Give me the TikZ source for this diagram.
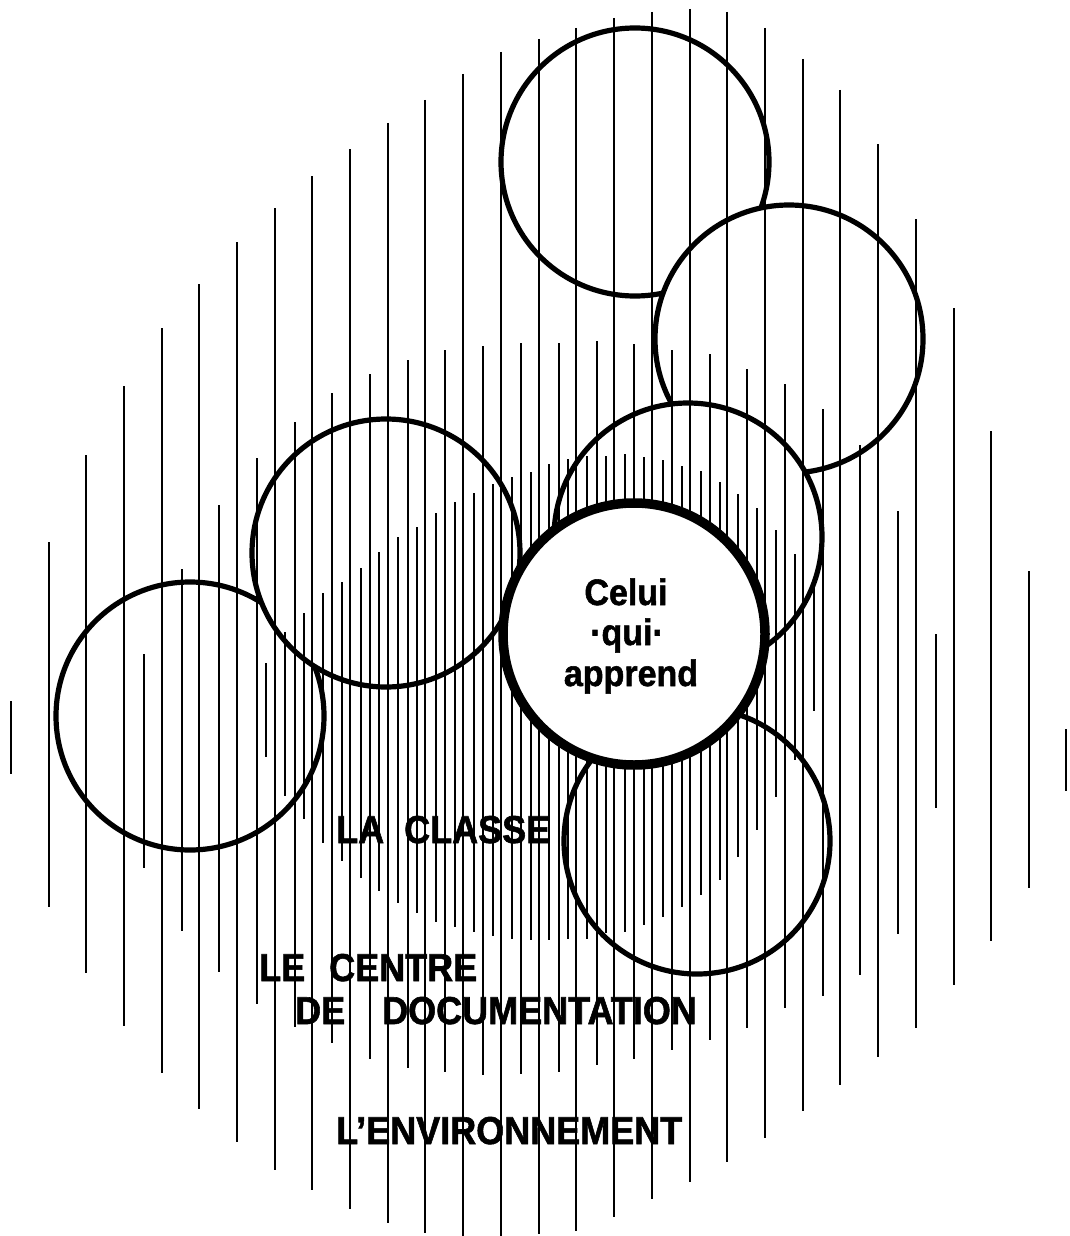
\documentclass[tikz,border=0pt]{standalone}
\usepackage{graphicx}
\usepackage{fontspec}
\setmainfont{Liberation Sans}[BoldFeatures={FakeBold=1.5}]
\newcommand{\tallish}[1]{\scalebox{1}[1.08]{#1}}
\begin{document}
\begin{tikzpicture}[x=1pt,y=-1pt,line cap=butt,
  vline/.style={line width=2.2pt},
  ring/.style={line width=5.2pt,draw=black,fill=white},
  core/.style={line width=9.5pt,draw=black,fill=white},
  lab/.style={font=\bfseries\fontsize{36}{40}\selectfont,inner sep=0pt,anchor=base west},
  ctext/.style={font=\bfseries\fontsize{34}{38}\selectfont,inner sep=0pt,anchor=base}]
\useasboundingbox (0,0) rectangle (1069,1236);
% outer rings (later ones hide the outline of earlier ones)
\draw[ring] (190,716) circle[radius=134pt];
\draw[ring] (386,553) circle[radius=134pt];
\draw[ring] (635,162) circle[radius=134pt];
\draw[ring] (789,339) circle[radius=134pt];
\draw[ring] (688,537) circle[radius=134pt];
\draw[ring] (697,841) circle[radius=133pt];
% outer set of lines: l'environnement
\foreach \x/\a/\b in {11/701/774, 49/542/907, 86/455/973, 124/386/1026, 162/328/1073,
  199/284/1109, 237/242/1142, 275/208/1170, 312/176/1190, 350/149/1209, 388/123/1223,
  425/100/1233, 463/74/1236, 501/52/1236, 539/39/1234, 576/28/1231, 614/18/1217,
  652/12/1199, 690/9/1182, 727/12/1162, 765/28/1138, 803/59/1111, 840/90/1085,
  878/144/1057, 916/219/1028, 954/308/985, 991/431/941, 1029/571/888, 1066/729/791}
  \draw[vline] (\x,\a) -- (\x,\b);
% middle set: le centre de documentation
\foreach \x/\a/\b in {144/654/868, 182/569/931, 219/505/972, 257/458/1004, 295/422/1027,
  332/393/1043, 370/374/1059, 408/360/1068, 445/350/1072, 483/346/1075, 521/343/1074,
  559/343/1072, 597/341/1065, 634/344/1059, 672/350/1050, 710/354/1040, 747/369/1028,
  785/384/1008, 823/409/996, 860/445/975, 898/511/934, 936/634/808}
  \draw[vline] (\x,\a) -- (\x,\b);
% inner set: la classe
\foreach \x/\a/\b in {266/663/757, 285/632/796, 304/613/819, 323/593/843, 342/582/861,
  361/568/878, 379/552/891, 398/537/903, 417/527/913, 436/513/922, 455/502/927,
  474/493/932, 493/484/936, 512/477/939, 531/472/940, 549/464/940, 568/459/939,
  587/456/939, 606/456/933, 625/454/932, 644/457/925, 663/460/917, 682/466/907,
  701/471/895, 720/482/880, 738/494/857, 757/508/830, 776/530/797, 795/554/760, 814/588/711}
  \draw[vline] (\x,\a) -- (\x,\b);
% central circle
\draw[core] (634,634) circle[radius=131pt];
\node[ctext] (t1) at (626,605) {\tallish{Celui}};
\node[ctext] (t2) at (627,645) {\tallish{·qui·}};
\node[ctext] (t3) at (631,686) {\tallish{apprend}};
% labels
\node[lab] (classe) at (336,843) {\tallish{LA\hspace{20pt}CLASSE}};
\node[lab] (centre) at (259,981) {\tallish{LE\hspace{24pt}CENTRE}};
\node[lab] (doc) at (295,1024) {\tallish{DE\hspace{37pt}DOCUMENTATION}};
\node[lab] (env) at (336,1144) {\tallish{L’ENVIRONNEMENT}};
\end{tikzpicture}
\end{document}
